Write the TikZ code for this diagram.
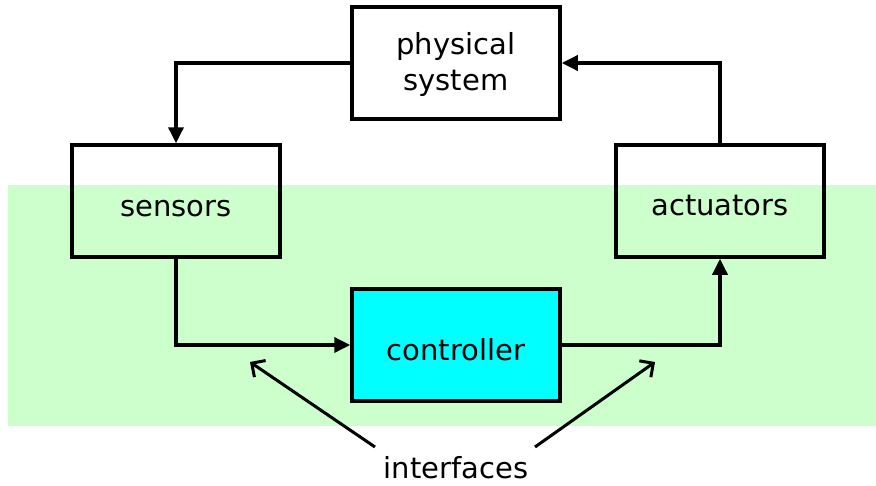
\documentclass[tikz,border=0pt]{standalone}
\usepackage{fontspec}
\setmainfont{DejaVu Sans}
\usetikzlibrary{arrows.meta}
\definecolor{bandgreen}{HTML}{CCFFCC}
\definecolor{ctrlcyan}{HTML}{00FFFF}
\tikzset{
  blockbox/.style={draw=black, line width=3.5pt, minimum width=208pt, minimum height=112pt, inner sep=0pt},
  blocktext/.style={font=\fontsize{29}{36}\selectfont, align=center, inner sep=0pt},
  flow/.style={line width=3.5pt, -{Triangle[length=16pt,width=15pt]}},
  pointer/.style={line width=3pt, -{Straight Barb[length=10pt,width=20pt,line width=3pt]}},
}
\begin{document}
\begin{tikzpicture}[x=1pt,y=-1pt]
\useasboundingbox (0,0) rectangle (876,485);
\fill[bandgreen] (8,185) rectangle (876,426);
\node[blockbox] (phys) at (456,63) {};
\node[blocktext] (physt) at (456,64) {physical\\system};
\node[blockbox] (sens) at (176,201) {};
\node[blocktext] (senst) at (176,209) {sensors};
\node[blockbox] (act) at (720,201) {};
\node[blocktext] (actt) at (720,206) {actuators};
\node[blockbox, fill=ctrlcyan] (ctrl) at (456,345) {};
\node[blocktext] (ctrlt) at (456,350) {controller};
\node[blocktext] (intf) at (456,468) {interfaces};
\coordinate (ia) at (375,447);
\coordinate (ib) at (535,447);
\coordinate (ta) at (250,362);
\coordinate (tb) at (655,362);
\draw[flow] (phys.west) -| (sens.north);
\draw[flow] (sens.south) |- (ctrl.west);
\draw[flow] (ctrl.east) -| (act.south);
\draw[flow] (act.north) |- (phys.east);
\draw[pointer] (ia) -- (ta);
\draw[pointer] (ib) -- (tb);
\end{tikzpicture}
\end{document}
